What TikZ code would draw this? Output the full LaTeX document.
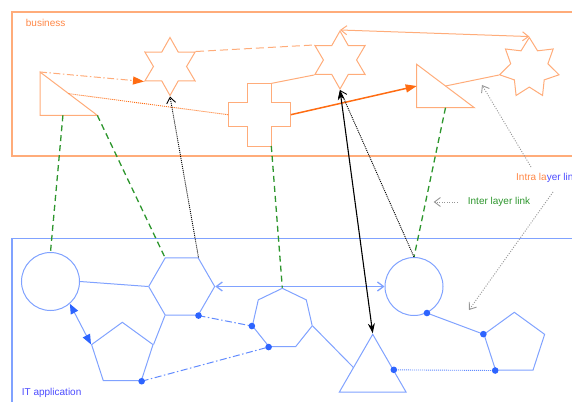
\documentclass[tikz,border=0pt]{standalone}
\usepackage{fontspec}
\setmainfont{Liberation Sans}
\usetikzlibrary{calc,shapes.geometric,arrows.meta}
\definecolor{bizline}{RGB}{255,172,122}
\definecolor{bizdark}{RGB}{255,108,18}
\definecolor{bizlabel}{RGB}{255,135,70}
\definecolor{itline}{RGB}{128,162,255}
\definecolor{itdot}{RGB}{45,100,255}
\definecolor{itlabel}{RGB}{75,75,255}
\definecolor{interlink}{RGB}{45,150,45}
\definecolor{legendgrey}{RGB}{150,150,150}

\begin{document}
\begin{tikzpicture}[x=1pt,y=-1pt,font=\fontsize{10}{12}\selectfont,
    bizshape/.style={draw=bizline,line width=1pt,inner sep=0pt},
    itshape/.style={draw=itline,line width=1pt,inner sep=0pt},
    layername/.style={anchor=west,inner sep=0pt},
    interlink/.style={draw=interlink,line width=1.3pt,dash pattern=on 6pt off 4pt},
    trace/.style={line width=0.9pt,dash pattern=on 1pt off 1pt},
    dashdot/.style={dash pattern=on 7pt off 2.5pt on 1.5pt off 2.5pt},
    openhead/.tip={Straight Barb[length=6pt,width=9pt]},
    bizhead/.tip={Triangle[length=11pt,width=8pt,color=bizdark]},
    ithead/.tip={Triangle[length=10pt,width=8pt,color=itdot]},
    blackhead/.tip={Stealth[length=10pt,width=7pt]}]
    \useasboundingbox (0,0) rectangle (572,401);
    \pgfmathsetmacro{\arm}{11.8}
    \pgfmathsetmacro{\half}{31.3}

    % layers
    \draw[bizline,line width=1.2pt] (12,12) rectangle (600,156);
    \draw[itline,line width=1.3pt] (12,238.5) rectangle (600,430);
    \node[layername,text=bizlabel] (bizname) at (25.7,23.3) {business};
    \node[layername,text=itlabel] (itname) at (21.7,393.3) {IT application};

    % business layer
    \coordinate (A) at (40,72);
    \coordinate (B) at (40,115.3);
    \coordinate (C) at (97.3,115.3);
    \coordinate (D) at (416.7,64.3);
    \coordinate (E) at (416.7,107.7);
    \coordinate (F) at (474.3,107.7);
    \coordinate (cross) at (259.5,114.7);
    \draw[bizshape] (A) -- (B) -- (C) -- cycle (D) -- (E) -- (F) -- cycle;
    \draw[bizshape] ($(cross)+(-\arm,-\half)$) -- ++(2*\arm,0) -- ++(0,\half-\arm)
        -- ++(\half-\arm,0) -- ++(0,2*\arm) -- ++(-\half+\arm,0) -- ++(0,\half-\arm)
        -- ++(-2*\arm,0) -- ++(0,-\half+\arm) -- ++(-\half+\arm,0) -- ++(0,-2*\arm)
        -- ++(\half-\arm,0) -- cycle;
    \coordinate (crossW) at ($(cross)+(-\half,0)$);
    \coordinate (crossE) at ($(cross)+(\half,0)$);
    \coordinate (crossNE) at ($(cross)+(\arm,-\half)$);
    \coordinate (crossSE) at ($(cross)+(\arm,\half)$);
    \coordinate (AC) at ($(A)!0.5!(C)$);
    \coordinate (BC) at ($(B)!0.4!(C)$);
    \coordinate (DE) at ($(D)!0.5!(E)$);
    \coordinate (DF) at ($(D)!0.5!(F)$);
    \coordinate (EF) at ($(E)!0.5!(F)$);

    \node[bizshape,star,star points=6,star point ratio=1.75,minimum size=58pt] (star1) at (170,66.5) {};
    \node[bizshape,star,star points=6,star point ratio=1.75,minimum size=58pt] (star2) at (340,60) {};
    \node[bizshape,star,star points=7,star point ratio=1.6,minimum size=61pt] (star3) at (529.3,68) {};

    % IT layer
    \node[itshape,circle,minimum size=58pt] (circ1) at (50.5,281.5) {};
    \node[itshape,circle,minimum size=58pt] (circ2) at (414,286.5) {};
    \node[itshape,regular polygon,regular polygon sides=6,minimum size=66pt] (hexa) at (181.7,286.5) {};
    \node[itshape,regular polygon,regular polygon sides=7,minimum size=61.4pt] (hepta) at (282.3,319) {};
    \node[itshape,regular polygon,regular polygon sides=5,minimum size=64.6pt] (penta1) at (122.3,354.6) {};
    \node[itshape,regular polygon,regular polygon sides=5,minimum size=63.8pt] (penta2) at (514.3,344.2) {};
    \node[itshape,regular polygon,regular polygon sides=3,minimum size=77pt] (tri3) at (372.7,372.8) {};

    % intra layer links, business
    \draw[bizline,line width=1pt,dashdot,-bizhead] (A) -- (star1.210);
    \draw[bizline,line width=1pt,dash pattern=on 8pt off 4pt] (star1.30) -- (star2.150);
    \draw[bizdark,trace] (AC) -- (crossW);
    \draw[bizline,line width=1pt] (crossNE) -- (star2.210) (DF) -- (star3.193);
    \draw[bizdark,line width=1.5pt,-bizhead] (crossE) -- (DE);
    \draw[bizline,line width=1pt,openhead-openhead] (star2.90) -- (star3.90);

    % intra layer links, IT
    \draw[itline,line width=1pt] (circ1.east) -- (hexa.180) (hexa.240) -- (penta1.18)
        (hepta.347) -- (tri3.164) (circ2.296) -- (penta2.162);
    \draw[itline,line width=1pt,ithead-ithead] (circ1.311) -- (penta1.162);
    \draw[itline,line width=1.3pt,openhead-openhead] (hexa.0) -- (circ2.180);
    \draw[itdot!75,line width=1pt,dashdot] (hexa.300) -- (hepta.193) (penta1.306) -- (hepta.244);
    \draw[itdot!75,trace] (tri3.8) -- (penta2.234);
    \foreach \p in {hexa.300,hepta.193,penta1.306,hepta.244,circ2.296,penta2.162,tri3.8,penta2.234}
        \fill[itdot] (\p) circle[radius=3.3pt];

    % inter layer links
    \draw[interlink] (BC) -- (circ1.north) (C) -- (hexa.120) (crossSE) -- (hepta.90) (EF) -- (circ2.north);
    \draw[black,trace,-openhead] (hexa.60) -- (star1.270);
    \draw[black,trace,-openhead] (circ2.north) -- (star2.270);
    \draw[black,line width=1.1pt,blackhead-blackhead] (star2.270) -- (tri3.90);

    % legend
    \node[layername,text=interlink] (inter) at (467.7,202) {Inter layer link};
    \node[layername] (intra) at (516,178) {\textcolor{bizlabel}{Intra la}\textcolor{itlabel}{yer link}};
    \coordinate (intraUp) at (531,167);
    \coordinate (intraUpEnd) at (482,85);
    \coordinate (intraDown) at (553,192);
    \coordinate (intraDownEnd) at (469,310);
    \draw[legendgrey,line width=0.9pt,dash pattern=on 1pt off 1.5pt,-openhead] (intraUp) -- (intraUpEnd);
    \draw[legendgrey,line width=0.9pt,dash pattern=on 1pt off 1.5pt,-openhead] (intraDown) -- (intraDownEnd);
    \draw[legendgrey,line width=0.9pt,dash pattern=on 1pt off 1.5pt,-openhead] ([xshift=-10pt]inter.west) -- ([xshift=-34pt]inter.west);
\end{tikzpicture}
\end{document}
